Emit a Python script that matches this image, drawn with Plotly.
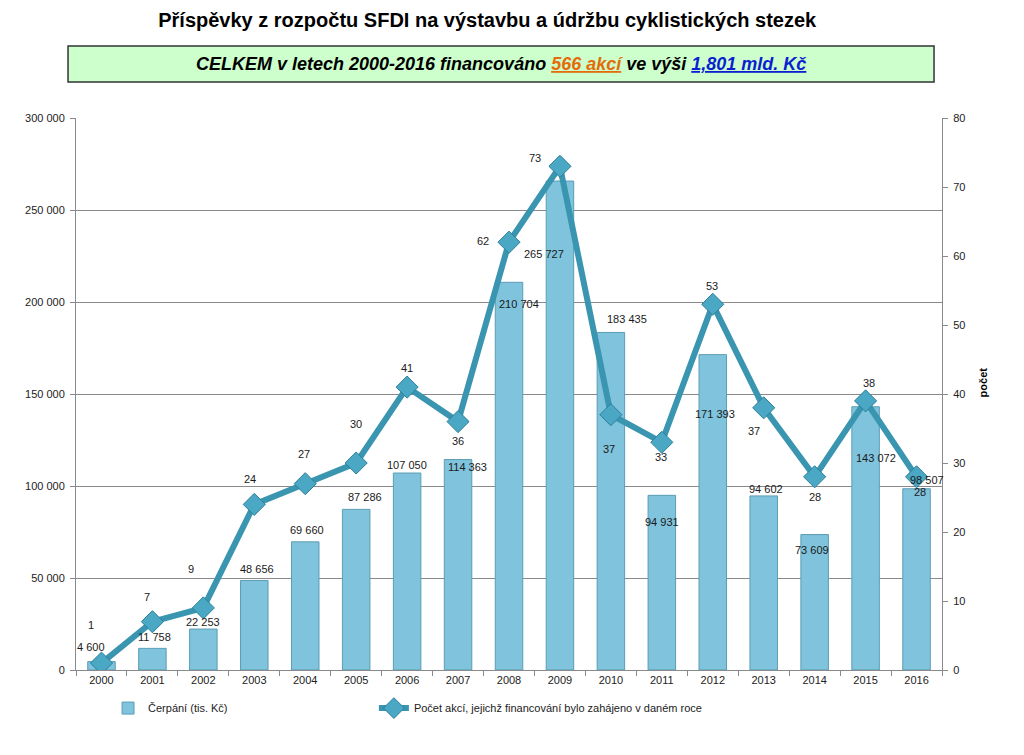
import plotly.graph_objects as go

years = [str(y) for y in range(2000, 2017)]
cerpani = [4600, 11758, 22253, 48656, 69660, 87286, 107050, 114363, 210704,
           265727, 183435, 94931, 171393, 94602, 73609, 143072, 98507]
pocet = [1, 7, 9, 24, 27, 30, 41, 36, 62, 73, 37, 33, 53, 38, 28, 39, 28]
pocet_labels = ["1", "7", "9", "24", "27", "30", "41", "36", "62", "73",
                "37", "33", "53", "37", "28", "38", "28"]

# label offsets (pixels) – styling only
bar_lbl_dx = [-10, 2, 0, 3, 2, 9, 0, 9, 10, -16, 16, 0, 2, 2, -3, 10, 10]
bar_lbl_dy = [15, 11, 7, 11, 12, 12, 8, -7, -22, -73, 13, -27, -59, 7, -15, -51, 9]
cnt_lbl_dx = [-10, -5, -12, -4, -1, 0, 0, 0, -26, -25, -2, -1, -1, -10, 0, 3, 3]
cnt_lbl_dy = [38, 25, 39, 25, 30, 39, 19, -19, 1, 8, -34, -15, 18, -23, -20, 18, -15]

def fmt(v):
    return f"{v:,}".replace(",", " ")

FONT = "Liberation Sans, Arial, sans-serif"
BAR_C = "#7fc3dc"
BAR_LINE = "#5b9db5"
LINE_C = "#3a95b0"

fig = go.Figure()
fig.add_trace(go.Bar(
    x=years, y=cerpani, name="Čerpání (tis. Kč)",
    marker=dict(color=BAR_C, line=dict(color=BAR_LINE, width=1)),
    width=0.54, yaxis="y", legend="legend", showlegend=True,
))
fig.add_trace(go.Scatter(
    x=years, y=pocet, yaxis="y2", mode="lines+markers",
    name="Počet akcí, jejichž financování bylo zahájeno v daném roce",
    line=dict(color=LINE_C, width=6),
    marker=dict(symbol="diamond", size=17, color="#4aa8c4",
                line=dict(color="#2d7f99", width=1)),
    legend="legend2", showlegend=True,
))

annotations = []
for i, y in enumerate(years):
    annotations.append(dict(
        x=i, y=cerpani[i], xref="x", yref="y", text=fmt(cerpani[i]),
        showarrow=False, xshift=bar_lbl_dx[i], yshift=bar_lbl_dy[i],
        font=dict(family=FONT, size=11, color="#1a1a1a")))
    annotations.append(dict(
        x=i, y=pocet[i], xref="x", yref="y2", text=pocet_labels[i],
        showarrow=False, xshift=cnt_lbl_dx[i], yshift=cnt_lbl_dy[i],
        font=dict(family=FONT, size=11, color="#1a1a1a")))

# subtitle in green box
annotations.append(dict(
    x=0.4913, y=1.0978, xref="paper", yref="paper", showarrow=False,
    text=("<b><i>CELKEM v letech 2000-2016 financováno "
          "<span style='color:#e46c0a;text-decoration:underline'>566 akcí</span>"
          " ve výši "
          "<span style='color:#0b1fd1;text-decoration:underline'>1,801 mld. Kč</span></i></b>"),
    font=dict(family=FONT, size=18, color="#000000"),
    xanchor="center", yanchor="middle"))
# right axis title
annotations.append(dict(
    x=1.057, y=0.5217, xref="paper", yref="paper", showarrow=False,
    text="<b>počet</b>", textangle=-90,
    font=dict(family=FONT, size=11, color="#000000")))

shapes = [dict(type="rect", xref="paper", yref="paper",
               x0=-0.0092, x1=0.9908, y0=1.0652, y1=1.1304,
               fillcolor="#ccffcc", line=dict(color="#333333", width=1.5),
               layer="below")]

fig.update_layout(
    width=1024, height=755,
    margin=dict(l=68, r=90, t=110, b=93),
    paper_bgcolor="white", plot_bgcolor="white",
    separators=", ",
    showlegend=True,
    title=dict(text="<b>Příspěvky z rozpočtu SFDI na výstavbu a údržbu cyklistických stezek</b>",
               x=0.468, y=1 - 12 / 755, xanchor="center", yanchor="middle",
               font=dict(family=FONT, size=20, color="#000000")),
    font=dict(family=FONT, size=11, color="#222222"),
    xaxis=dict(type="category", showline=True, linecolor="#8a8a8a", linewidth=1,
               ticks="outside", ticklen=5, tickcolor="#8a8a8a", tickson="boundaries",
               showgrid=False, tickfont=dict(size=11, color="#222222"),
               range=[-0.5, 16.5]),
    yaxis=dict(range=[0, 300000], dtick=50000, tickformat=",d", showline=True,
               linecolor="#8a8a8a", ticks="outside", ticklen=5, tickcolor="#8a8a8a",
               showgrid=True, gridcolor="#8a8a8a", gridwidth=1, zeroline=False,
               tickfont=dict(size=11, color="#222222"), ticklabelstandoff=3),
    yaxis2=dict(range=[0, 80], dtick=10, overlaying="y", side="right",
                showline=True, linecolor="#8a8a8a", ticks="outside", ticklen=5,
                tickcolor="#8a8a8a", showgrid=False, zeroline=False,
                tickfont=dict(size=11, color="#222222"), ticklabelstandoff=3),
    legend=dict(orientation="h", x=0.037, y=-0.069, xanchor="left", yanchor="middle",
                font=dict(size=11, color="#222222"), bgcolor="rgba(0,0,0,0)"),
    legend2=dict(orientation="h", x=0.344, y=-0.069, xanchor="left", yanchor="middle",
                 font=dict(size=11, color="#222222"), bgcolor="rgba(0,0,0,0)"),
    annotations=annotations, shapes=shapes,
)

fig.write_html("out.html")
